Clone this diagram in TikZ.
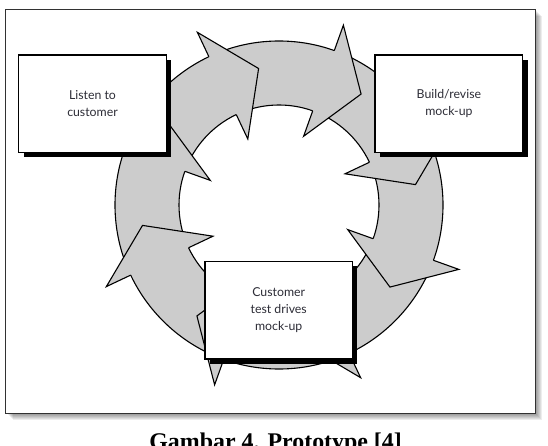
\documentclass[tikz,border=0pt]{standalone}
\usepackage{fontspec}
\setmainfont{Liberation Serif}
\newfontfamily\boxfont{Lato}
\usetikzlibrary{shadows}
\definecolor{ringgray}{RGB}{204,204,204}
\definecolor{txtgray}{RGB}{45,45,55}
\definecolor{framegray}{RGB}{50,50,50}
\tikzset{
  ringline/.style={draw=black, line width=1.1pt, line join=miter},
  stagebox/.style={draw=black, fill=white, line width=1.4pt,
    minimum width=147.5pt, minimum height=97.5pt, inner sep=0pt,
    align=center, text=txtgray,
    font=\boxfont\fontsize{12.3}{16.7}\selectfont,
    general shadow={fill=black, shadow xshift=5pt, shadow yshift=-5pt}},
}
\begin{document}
\begin{tikzpicture}[x=1pt,y=1pt]
\useasboundingbox (0,0) rectangle (548,-446);
\fill[white] (0,0) rectangle (548,-446);
% frame shadow
\foreach \i in {1,...,7}{
  \fill[black, opacity=0.07] (5.5+\i,-9.3-\i) rectangle (535+\i,-413-\i);
}
\draw[framegray, fill=white, line width=1pt] (5.5,-9.3) rectangle (535,-413);
% ring
\coordinate (C) at (279,-205);
\draw[ringline, fill=ringgray, even odd rule] (C) circle[radius=164pt] (C) circle[radius=100pt];
% arrow heads
\foreach \b in {115.3,70.3,25.3,-19.7,-64.7,-109.7,-154.7,160.3}{
  \pgfmathsetmacro\t{\b-16.8}
  \fill[ringgray] ([shift={(C)}]\b:100pt) -- ([shift={(C)}]\b:73pt) -- ([shift={(C)}]\t:138pt)
     -- ([shift={(C)}]\b:191pt) -- ([shift={(C)}]\b:164pt) -- cycle;
  \draw[ringline] ([shift={(C)}]\b:100pt) -- ([shift={(C)}]\b:73pt) -- ([shift={(C)}]\t:138pt)
     -- ([shift={(C)}]\b:191pt) -- ([shift={(C)}]\b:164pt);
}
% boxes
\node[stagebox] (listen) at (92.5,-103.7) {Listen to\\customer};
\node[stagebox] (build) at (448.9,-103.7) {Build/revise\\mock-up};
\node[stagebox] (test) at (278.7,-310.2) {Customer\\test drives\\mock-up};
% caption
\node[anchor=base, inner sep=0pt, font=\bfseries\fontsize{23.9}{28}\selectfont] (cap) at (275.6,-449) {Gambar 4. Prototype [4]};
\end{tikzpicture}
\end{document}
